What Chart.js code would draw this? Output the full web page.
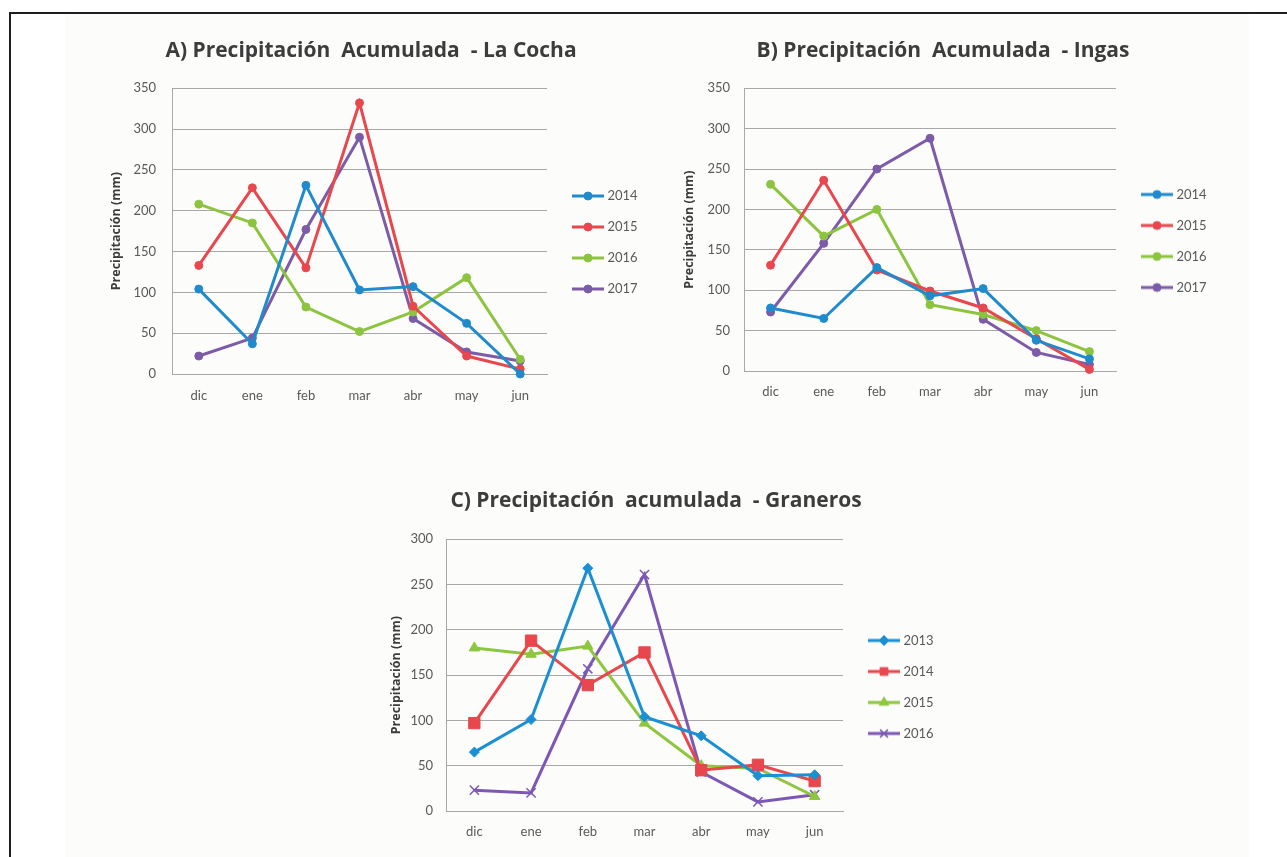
<!DOCTYPE html>
<html lang="es">
<head>
<meta charset="utf-8">
<title>Precipitación acumulada</title>
<script src="https://cdn.jsdelivr.net/npm/chart.js@4.4.1/dist/chart.umd.min.js"></script>
<style>
  html, body { margin: 0; padding: 0; background: #fff; overflow: hidden; }
  body { width: 1287px; height: 857px; position: relative; }
  .sheet { position: absolute; left: 65px; top: 14px; width: 1184px; bottom: 0; background: #fcfcfa; }
  .frame { position: absolute; left: 9px; top: 12px; right: 0; bottom: 0;
           border-top: 2px solid #1e1e1e; border-left: 2px solid #1e1e1e; }
  .chart { position: absolute; }
</style>
</head>
<body>
<div class="sheet"></div>
<div class="frame"></div>
<div class="chart" style="left:95px;top:28px;width:552px;height:429px"><canvas id="chartCocha"></canvas></div>
<div class="chart" style="left:670px;top:28px;width:546px;height:426px"><canvas id="chartIngas"></canvas></div>
<div class="chart" style="left:369px;top:478px;width:574px;height:418px"><canvas id="chartGraneros"></canvas></div>

<script>
// months of the rainy season, december to june
const months = ['dic', 'ene', 'feb', 'mar', 'abr', 'may', 'jun'];

// A) La Cocha
const cochaYears = ['2014', '2015', '2016', '2017'];
const cocha2014 = [104, 37, 231, 103, 107, 62, 0];
const cocha2015 = [133, 228, 130, 332, 83, 22, 6];
const cocha2016 = [208, 185, 82, 52, 76, 118, 18];
const cocha2017 = [22, 44, 177, 290, 68, 27, 16];

// B) Ingas
const ingasYears = ['2014', '2015', '2016', '2017'];
const ingas2014 = [78, 65, 128, 93, 102, 38, 15];
const ingas2015 = [131, 236, 125, 99, 78, 40, 2];
const ingas2016 = [231, 167, 200, 82, 70, 50, 24];
const ingas2017 = [73, 158, 250, 288, 64, 23, 8];

// C) Graneros
const granerosYears = ['2013', '2014', '2015', '2016'];
const graneros2013 = [65, 101, 268, 104, 83, 39, 40];
const graneros2014 = [97, 188, 139, 175, 45, 51, 33];
const graneros2015 = [180, 173, 182, 97, 50, 47, 16];
const graneros2016 = [23, 20, 157, 261, 43, 10, 18];

const ticksAB = [0, 50, 100, 150, 200, 250, 300, 350];
const ticksC = [0, 50, 100, 150, 200, 250, 300];

const BLUE = '#1f8bcd', RED = '#e8474d', GREEN = '#8dc43f', PURPLE = '#7c5ba8';
const GRID = '#a8a8a8';
const TEXT = '#595959';
const FONT = 'Lato, "Open Sans", sans-serif';
const TITLE_FONT = '"Open Sans", Lato, sans-serif';

const circles = [
  { color: BLUE, point: 'circle', radius: 4 },
  { color: RED, point: 'circle', radius: 4 },
  { color: GREEN, point: 'circle', radius: 4 },
  { color: PURPLE, point: 'circle', radius: 4 }
];
const mixed = [
  { color: '#1a8fd2', point: 'rectRot', radius: 5 },
  { color: '#e8474d', point: 'rect', radius: 8 },
  { color: '#8dc63f', point: 'triangle', radius: 6 },
  { color: '#7d57b5', point: 'crossRot', radius: 6.5, border: 1.5 }
];

// small line + marker swatch used as the legend symbol
const iconCache = new Map();
function legendIcon(ds) {
  if (iconCache.has(ds)) return iconCache.get(ds);
  const c = document.createElement('canvas');
  c.width = 42; c.height = 16;
  const ctx = c.getContext('2d');
  ctx.strokeStyle = ds.borderColor;
  ctx.fillStyle = ds.borderColor;
  ctx.lineWidth = 3;
  ctx.beginPath();
  ctx.moveTo(10, 8);
  ctx.lineTo(42, 8);
  ctx.stroke();
  ctx.lineWidth = ds.pointBorderWidth;
  Chart.helpers.drawPoint(ctx, {
    pointStyle: ds.pointStyle,
    radius: Math.min(ds.pointRadius, 5.5),
    borderWidth: ds.pointBorderWidth,
    rotation: 0
  }, 26, 8);
  iconCache.set(ds, c);
  return c;
}

function makeChart(id, title, names, series, styles, ticks, g) {
  const datasets = names.map((name, i) => ({
    label: name,
    data: series[i],
    borderColor: styles[i].color,
    backgroundColor: styles[i].color,
    borderWidth: 3,
    pointStyle: styles[i].point,
    pointRadius: styles[i].radius,
    pointHoverRadius: styles[i].radius,
    pointBorderWidth: styles[i].border || 1,
    tension: 0,
    clip: false
  }));

  return new Chart(document.getElementById(id), {
    type: 'line',
    data: { labels: months, datasets: datasets },
    options: {
      responsive: true,
      maintainAspectRatio: false,
      animation: false,
      layout: { padding: 0 },
      plugins: {
        title: {
          display: true,
          text: title,
          color: '#3c3c3c',
          font: { family: TITLE_FONT, size: 21, weight: 'bold' },
          padding: { top: 10, bottom: g.titleGap }
        },
        legend: {
          position: 'right',
          align: 'center',
          maxWidth: 100,
          labels: {
            usePointStyle: true,
            pointStyleWidth: 36,
            padding: 18,
            color: TEXT,
            font: { family: FONT, size: 13 },
            generateLabels(chart) {
              const items = Chart.defaults.plugins.legend.labels.generateLabels(chart);
              items.forEach((item, i) => { item.pointStyle = legendIcon(chart.data.datasets[i]); });
              return items;
            }
          }
        },
        tooltip: { enabled: false }
      },
      scales: {
        x: {
          offset: true,
          grid: { display: false, drawTicks: false },
          border: { color: GRID, width: 1 },
          ticks: { color: TEXT, font: { family: FONT, size: 13 }, padding: g.xPad },
          afterFit(scale) { scale.height = g.xHeight; }
        },
        y: {
          min: ticks[0],
          max: ticks[ticks.length - 1],
          afterBuildTicks(scale) { scale.ticks = ticks.map(v => ({ value: v })); },
          grid: { color: GRID, drawTicks: false },
          border: { color: GRID, width: 1 },
          ticks: { color: TEXT, font: { family: FONT, size: 13 }, padding: g.yPad },
          title: {
            display: true,
            text: 'Precipitación (mm)',
            color: '#3c3c3c',
            font: { family: TITLE_FONT, size: 12.5, weight: 'bold' },
            padding: { top: g.titlePad, bottom: 0 }
          },
          afterFit(scale) { scale.width = g.yWidth; }
        }
      }
    }
  });
}

makeChart('chartCocha', 'A) Precipitación  Acumulada  - La Cocha', cochaYears,
  [cocha2014, cocha2015, cocha2016, cocha2017], circles, ticksAB,
  { titleGap: 25, yWidth: 77, xHeight: 83, xPad: 14, yPad: 16, titlePad: 14 });

makeChart('chartIngas', 'B) Precipitación  Acumulada  - Ingas', ingasYears,
  [ingas2014, ingas2015, ingas2016, ingas2017], circles, ticksAB,
  { titleGap: 25, yWidth: 74, xHeight: 83, xPad: 13, yPad: 14, titlePad: 12 });

makeChart('chartGraneros', 'C) Precipitación  acumulada  - Graneros', granerosYears,
  [graneros2013, graneros2014, graneros2015, graneros2016], mixed, ticksC,
  { titleGap: 26, yWidth: 77, xHeight: 85, xPad: 13, yPad: 13, titlePad: 20 });
</script>
</body>
</html>
